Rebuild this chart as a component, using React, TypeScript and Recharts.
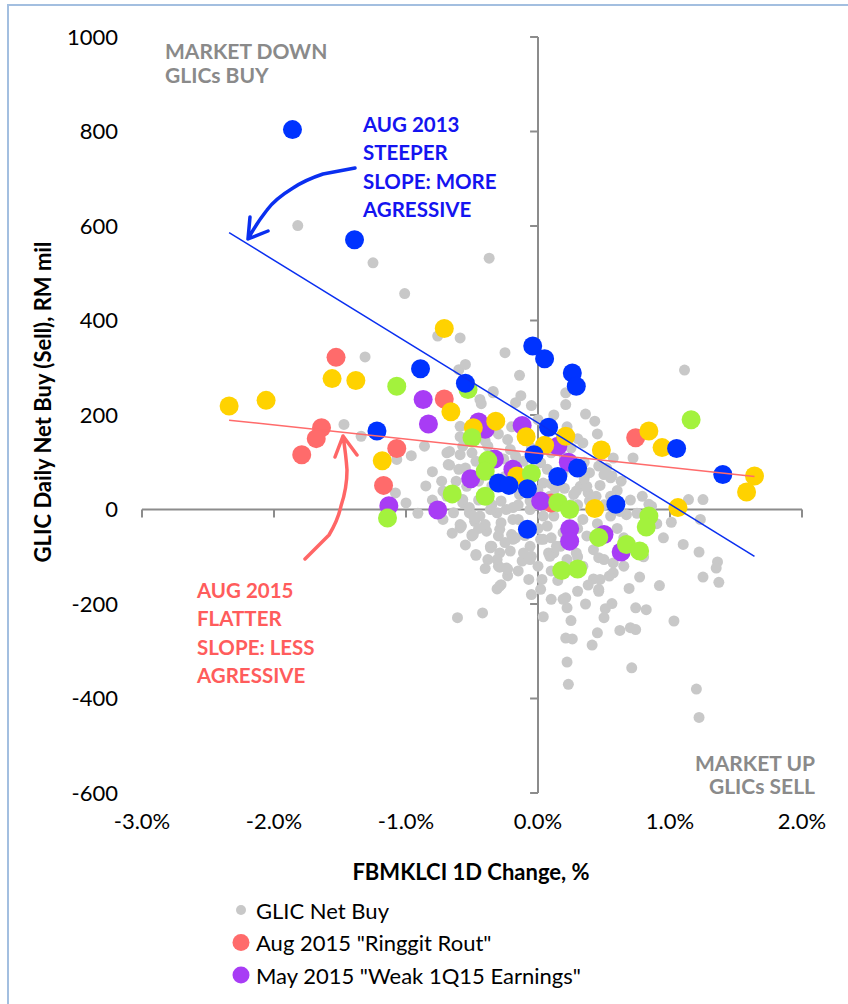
import React from "react";
import { ScatterChart, Scatter, XAxis, YAxis, ReferenceLine } from "recharts";

// FBMKLCI 1D change (%) vs GLIC daily net buy (RM mil)
const xTicks = [-3, -2, -1, 0, 1, 2];
const yTicks = [-600, -400, -200, 0, 200, 400, 600, 800, 1000];

const glicNetBuy = [
  { x: -1.82, y: 601 }, { x: -1.25, y: 522 }, { x: -1.01, y: 457 }, { x: -0.37, y: 532 },
  { x: -0.76, y: 367 }, { x: -0.59, y: 363 }, { x: -1.31, y: 323 }, { x: -0.25, y: 332 },
  { x: -0.6, y: 296 }, { x: -0.55, y: 307 }, { x: -0.14, y: 284 }, { x: 0.21, y: 247 },
  { x: -0.34, y: 247 }, { x: -0.13, y: 241 }, { x: 1.11, y: 295 }, { x: 0.21, y: 222 },
  { x: 0.36, y: 202 }, { x: 0.43, y: 187 }, { x: 0.22, y: 175 }, { x: -0.44, y: 233 },
  { x: -0.43, y: 224 }, { x: -0.17, y: 226 }, { x: -0.34, y: 250 }, { x: -0.59, y: 176 },
  { x: -0.59, y: 154 }, { x: -1.47, y: 180 }, { x: -1.34, y: 155 }, { x: -0.96, y: 114 },
  { x: -1.07, y: 106 }, { x: -1.08, y: 35 }, { x: -1.0, y: 14 }, { x: -0.91, y: -8 },
  { x: -0.86, y: 134 }, { x: -0.69, y: 120 }, { x: -0.67, y: 94 }, { x: -0.59, y: 116 },
  { x: -0.6, y: 85 }, { x: -0.73, y: 60 }, { x: -0.67, y: 123 }, { x: -0.68, y: 95 },
  { x: 0.34, y: 141 }, { x: 0.72, y: 109 }, { x: 0.47, y: 51 }, { x: 0.56, y: 71 },
  { x: 0.63, y: 60 }, { x: 0.79, y: 28 }, { x: 0.84, y: 11 }, { x: 1.14, y: 21 },
  { x: 1.25, y: 21 }, { x: 1.01, y: -27 }, { x: 1.23, y: -21 }, { x: 0.39, y: 18 },
  { x: 0.52, y: 88 }, { x: 0.57, y: 109 }, { x: 0.46, y: 92 }, { x: 0.62, y: -4 },
  { x: 0.67, y: -11 }, { x: 0.32, y: 49 }, { x: 0.27, y: 32 }, { x: 0.38, y: 35 },
  { x: 0.86, y: 7 }, { x: 0.75, y: -8 }, { x: 1.1, y: -74 }, { x: 1.22, y: -90 },
  { x: 1.36, y: -111 }, { x: 1.35, y: -124 }, { x: 1.25, y: -143 }, { x: 1.37, y: -154 },
  { x: 0.92, y: -161 }, { x: 0.77, y: -143 }, { x: 0.69, y: -167 }, { x: 0.57, y: -134 },
  { x: 0.46, y: -102 }, { x: 0.46, y: -173 }, { x: 0.36, y: -200 }, { x: 0.51, y: -210 },
  { x: 0.5, y: -229 }, { x: 0.56, y: -199 }, { x: 0.74, y: -208 }, { x: 0.82, y: -212 },
  { x: 1.03, y: -236 }, { x: 0.62, y: -256 }, { x: 0.7, y: -250 }, { x: 0.74, y: -254 },
  { x: 0.45, y: -261 }, { x: 0.21, y: -272 }, { x: 0.26, y: -274 }, { x: 0.41, y: -287 },
  { x: 0.22, y: -323 }, { x: 0.71, y: -335 }, { x: 0.23, y: -370 }, { x: 1.2, y: -380 },
  { x: 1.22, y: -440 }, { x: 0.22, y: -208 }, { x: 0.21, y: -187 }, { x: 0.57, y: -113 },
  { x: 0.54, y: -141 }, { x: 0.42, y: -147 }, { x: 0.46, y: -169 }, { x: 0.3, y: -173 },
  { x: 0.19, y: -190 }, { x: 0.47, y: -148 }, { x: 0.33, y: -120 }, { x: 0.04, y: -227 },
  { x: 0.03, y: -148 }, { x: 0.02, y: -169 }, { x: 0.12, y: -92 }, { x: 0.17, y: -78 },
  { x: 0.08, y: -92 }, { x: 0.04, y: -63 }, { x: -0.61, y: -229 }, { x: -0.42, y: -219 },
  { x: -0.31, y: -168 }, { x: -0.28, y: -159 }, { x: -0.07, y: -148 }, { x: -0.23, y: -140 },
  { x: -0.29, y: -122 }, { x: -0.24, y: -124 }, { x: -0.47, y: -97 }, { x: -0.38, y: -106 },
  { x: -0.36, y: -81 }, { x: -0.29, y: -92 }, { x: -0.21, y: -88 }, { x: -0.12, y: -109 },
  { x: -0.05, y: -99 }, { x: -0.59, y: -39 }, { x: -0.5, y: -53 }, { x: -0.39, y: -46 },
  { x: -0.3, y: -56 }, { x: -0.2, y: -53 }, { x: -0.29, y: -162 }, { x: -0.23, y: -126 },
  { x: -0.3, y: -120 }, { x: -0.35, y: -78 }, { x: -0.5, y: -56 }, { x: -0.59, y: -32 },
  { x: -0.48, y: -25 }, { x: -0.52, y: -7 }, { x: -0.57, y: 14 }, { x: -0.69, y: 28 },
  { x: -0.24, y: 0 }, { x: -0.15, y: -21 }, { x: -0.29, y: -42 }, { x: -0.19, y: -63 },
  { x: -0.06, y: -78 }, { x: -0.54, y: 49 }, { x: -0.72, y: 39 }, { x: -0.52, y: 4 },
  { x: -0.44, y: -14 }, { x: -0.58, y: -35 }, { x: -0.49, y: -53 }, { x: -0.4, y: -32 },
  { x: -0.31, y: -7 }, { x: -0.28, y: 18 }, { x: -0.19, y: 4 }, { x: -0.19, y: -21 },
  { x: -0.36, y: -78 }, { x: -0.47, y: -95 }, { x: -0.31, y: -106 }, { x: -0.11, y: -92 },
  { x: -0.17, y: -60 }, { x: 0.02, y: -63 }, { x: 0.07, y: -35 }, { x: 0.12, y: -14 },
  { x: 0.04, y: -14 }, { x: -0.06, y: 0 }, { x: 0.04, y: 56 }, { x: 0.07, y: 85 },
  { x: 0.02, y: 99 }, { x: -0.11, y: 102 }, { x: -0.17, y: 113 }, { x: -0.29, y: 109 },
  { x: -0.38, y: 134 }, { x: -0.23, y: 148 }, { x: 0.29, y: 39 }, { x: 0.37, y: 49 },
  { x: 0.44, y: 28 }, { x: 0.34, y: -21 }, { x: 0.37, y: -56 }, { x: 0.42, y: -85 },
  { x: 0.55, y: -14 }, { x: 0.55, y: 28 }, { x: 0.39, y: 78 }, { x: 0.5, y: 74 },
  { x: 0.55, y: 67 }, { x: 0.19, y: 78 }, { x: -0.11, y: -42 }, { x: -0.06, y: -106 },
  { x: 0.09, y: -99 }, { x: 0.22, y: -106 }, { x: 0.29, y: -92 }, { x: 0.5, y: -106 },
  { x: -0.39, y: 28 }, { x: -0.36, y: 0 }, { x: -0.28, y: -28 }, { x: -0.49, y: -14 },
  { x: 0.09, y: 28 }, { x: -0.14, y: 32 }, { x: -0.06, y: 18 }, { x: 0.19, y: -49 },
  { x: 0.14, y: -78 }, { x: 0.34, y: -120 }, { x: -0.57, y: 21 }, { x: -0.64, y: -7 },
  { x: -0.72, y: -21 }, { x: -0.21, y: 127 }, { x: -0.26, y: 107 }, { x: -0.57, y: 134 },
  { x: -0.47, y: 102 }, { x: -0.55, y: 88 }, { x: 0.0, y: 40 }, { x: 0.13, y: 45 },
  { x: 0.25, y: 10 }, { x: 0.3, y: -40 }, { x: -0.1, y: 60 }, { x: 0.18, y: 20 },
  { x: -0.45, y: 60 }, { x: -0.35, y: 50 }, { x: -0.25, y: 70 }, { x: -0.15, y: 60 },
  { x: 0.1, y: 55 }, { x: 0.2, y: 45 }, { x: 0.35, y: 65 }, { x: -0.45, y: 20 },
  { x: -0.35, y: 10 }, { x: -0.15, y: 10 }, { x: 0.0, y: 10 }, { x: 0.05, y: 20 },
  { x: 0.3, y: 10 }, { x: 0.4, y: 0 }, { x: 0.45, y: -30 }, { x: -0.45, y: -40 },
  { x: -0.25, y: -70 }, { x: -0.1, y: -55 }, { x: 0.0, y: -40 }, { x: 0.1, y: -60 },
  { x: 0.25, y: -70 }, { x: 0.3, y: -100 }, { x: 0.0, y: -120 }, { x: -0.15, y: -130 },
  { x: 0.1, y: -130 }, { x: 0.15, y: -150 }, { x: -0.4, y: -125 }, { x: -0.55, y: -75 },
  { x: -0.65, y: -50 }, { x: 0.6, y: -40 }, { x: 0.65, y: -60 }, { x: 0.5, y: 10 },
  { x: 0.6, y: 40 }, { x: 0.2, y: 110 }, { x: 0.35, y: 100 }, { x: 0.1, y: 120 },
  { x: -0.05, y: 130 }, { x: -0.3, y: 160 }, { x: -0.4, y: 145 }, { x: -0.5, y: 120 },
  { x: -0.2, y: 175 }, { x: 0.0, y: 190 }, { x: 0.12, y: 200 }, { x: -0.05, y: 220 },
  { x: 0.3, y: 150 }, { x: 0.25, y: 130 }, { x: 0.45, y: 160 }, { x: -0.62, y: 60 },
  { x: -0.8, y: 80 }, { x: -0.8, y: 20 }, { x: -0.85, y: 50 }, { x: 0.7, y: 20 },
  { x: 0.9, y: -30 }, { x: 0.95, y: -60 }, { x: 0.8, y: -100 }, { x: 0.65, y: -120 },
  { x: 0.38, y: -160 }, { x: 0.1, y: -190 }, { x: -0.05, y: -180 }, { x: 0.25, y: -235 },
];

const aug2015 = [
  { x: -1.53, y: 322 }, { x: -1.64, y: 173 }, { x: -1.68, y: 150 }, { x: -1.79, y: 116 },
  { x: -1.07, y: 129 }, { x: -1.17, y: 51 }, { x: -0.71, y: 234 }, { x: 0.74, y: 152 },
  { x: 0.1, y: 14 },
];

const may2015 = [
  { x: -0.87, y: 233 }, { x: -0.83, y: 181 }, { x: -1.13, y: 8 }, { x: -0.76, y: -1 },
  { x: -0.45, y: 185 }, { x: -0.4, y: 170 }, { x: -0.33, y: 107 }, { x: -0.51, y: 65 },
  { x: -0.19, y: 85 }, { x: -0.12, y: 178 }, { x: 0.02, y: 18 }, { x: 0.24, y: -41 },
  { x: 0.24, y: -67 }, { x: 0.15, y: 134 }, { x: 0.23, y: 100 }, { x: 0.5, y: -53 },
  { x: 0.63, y: -90 },
];

const yellowSeries = [
  { x: -2.34, y: 219 }, { x: -2.06, y: 231 }, { x: -1.56, y: 277 }, { x: -1.38, y: 273 },
  { x: -0.71, y: 383 }, { x: -1.18, y: 103 }, { x: -0.66, y: 207 }, { x: -0.32, y: 187 },
  { x: -0.49, y: 173 }, { x: -0.09, y: 154 }, { x: 0.05, y: 136 }, { x: 0.21, y: 155 },
  { x: -0.16, y: 71 }, { x: 0.48, y: 126 }, { x: 0.84, y: 166 }, { x: 0.94, y: 131 },
  { x: 0.43, y: 2 }, { x: 1.06, y: 4 }, { x: 1.64, y: 71 }, { x: 1.58, y: 37 },
];

const greenSeries = [
  { x: -1.07, y: 261 }, { x: -1.14, y: -18 }, { x: -0.53, y: 254 }, { x: -0.5, y: 152 },
  { x: -0.38, y: 104 }, { x: -0.4, y: 81 }, { x: -0.65, y: 33 }, { x: -0.4, y: 28 },
  { x: -0.05, y: 76 }, { x: 0.15, y: 15 }, { x: 0.24, y: 0 }, { x: 0.18, y: -129 },
  { x: 0.3, y: -126 }, { x: 1.16, y: 190 }, { x: 0.84, y: -14 }, { x: 0.82, y: -37 },
  { x: 0.46, y: -59 }, { x: 0.67, y: -74 }, { x: 0.77, y: -88 },
];

const aug2013 = [
  { x: -1.86, y: 804 }, { x: -1.39, y: 571 }, { x: -1.22, y: 166 }, { x: -0.89, y: 298 },
  { x: -0.55, y: 267 }, { x: -0.04, y: 346 }, { x: 0.05, y: 319 }, { x: 0.26, y: 289 },
  { x: 0.29, y: 261 }, { x: 0.08, y: 174 }, { x: -0.03, y: 116 }, { x: 0.3, y: 88 },
  { x: 0.15, y: 70 }, { x: -0.3, y: 56 }, { x: -0.22, y: 51 }, { x: -0.08, y: 44 },
  { x: 0.59, y: 11 }, { x: -0.08, y: -42 }, { x: 1.05, y: 129 }, { x: 1.4, y: 74 },
];

const trendAug2013 = [{ x: -2.34, y: 586 }, { x: 1.64, y: -99 }];
const trendAug2015 = [{ x: -2.34, y: 189 }, { x: 1.64, y: 70 }];

const legendItems = [
  { name: "GLIC Net Buy", color: "#c8c8c8", r: 5 },
  { name: 'Aug 2015 "Ringgit Rout"', color: "#ff6b6b", r: 8.5 },
  { name: 'May 2015 "Weak 1Q15 Earnings"', color: "#a83cf5", r: 8.5 },
];

const FONT = "Lato, 'Open Sans', sans-serif";
const AXIS = "#8c8c8c";

const dot = (r: number, fill: string) => (p: any) =>
  <circle cx={p.cx} cy={p.cy} r={r} fill={fill} />;
const noDot = () => <g />;

export default function App() {
  return (
    <div style={{ position: "fixed", left: 0, top: 0, width: 848, height: 1004, overflow: "hidden", background: "#fff", fontFamily: FONT }}>
      <div style={{ position: "absolute", left: 7, top: 4, width: 1000, height: 1200, border: "2px solid #a3bfe0" }} />
      <div style={{ position: "absolute", left: 0, top: 0 }}>
        <ScatterChart width={848} height={1004} margin={{ top: 37, right: 46, bottom: 121, left: 42 }}>
          <XAxis
            type="number"
            dataKey="x"
            domain={[-3, 2]}
            ticks={xTicks}
            tickFormatter={(v: number) => `${v.toFixed(1)}%`}
            axisLine={false}
            tickLine={false}
            tickMargin={14}
            height={90}
            tick={{ fill: "#000", fontSize: 22, fontFamily: FONT }}
          />
          <YAxis
            type="number"
            dataKey="y"
            domain={[-600, 1000]}
            ticks={yTicks}
            axisLine={false}
            tickLine={false}
            tickMargin={18}
            width={100}
            tick={{ fill: "#000", fontSize: 22, fontFamily: FONT }}
          />
          <ReferenceLine x={0} stroke={AXIS} strokeWidth={2} />
          <ReferenceLine y={0} stroke={AXIS} strokeWidth={2} />
          {yTicks.map((t) => (
            <ReferenceLine key={`yt${t}`} segment={[{ x: -0.06, y: t }, { x: 0, y: t }]} stroke={AXIS} strokeWidth={2} />
          ))}
          {xTicks.map((t) => (
            <ReferenceLine key={`xt${t}`} segment={[{ x: t, y: 0 }, { x: t, y: -17 }]} stroke={AXIS} strokeWidth={2} />
          ))}
          <Scatter name="GLIC Net Buy" data={glicNetBuy} shape={dot(5.5, "#c8c8c8")} isAnimationActive={false} />
          <Scatter name='Aug 2015 "Ringgit Rout"' data={aug2015} shape={dot(9.5, "#ff6b6b")} isAnimationActive={false} />
          <Scatter name='May 2015 "Weak 1Q15 Earnings"' data={may2015} shape={dot(9.5, "#a83cf5")} isAnimationActive={false} />
          <Scatter name="yellow" data={yellowSeries} shape={dot(9.5, "#ffd200")} isAnimationActive={false} />
          <Scatter name="green" data={greenSeries} shape={dot(9.5, "#a3f23d")} isAnimationActive={false} />
          <Scatter name="Aug 2013" data={aug2013} shape={dot(9.5, "#0033ff")} isAnimationActive={false} />
          <Scatter data={trendAug2013} line={{ stroke: "#0a2ff0", strokeWidth: 1.5 }} shape={noDot} isAnimationActive={false} />
          <Scatter data={trendAug2015} line={{ stroke: "#ff6b6b", strokeWidth: 1.5 }} shape={noDot} isAnimationActive={false} />
        </ScatterChart>
      </div>
      <svg width={848} height={1004} style={{ position: "absolute", left: 0, top: 0, pointerEvents: "none" }} fontFamily={FONT}>
        <text x={42} y={402} transform="rotate(-90 42 402)" textAnchor="middle" dominantBaseline="central" fontSize={22} fontWeight="bold" fill="#000">
          GLIC Daily Net Buy (Sell), RM mil
        </text>
        <text x={471} y={871} textAnchor="middle" dominantBaseline="central" fontSize={22} fontWeight="bold" fill="#000">
          FBMKLCI 1D Change, %
        </text>

        <g fontSize={21} fontWeight="bold" fill="#8a8a8a">
          <text x={165} y={50} dominantBaseline="central">MARKET DOWN</text>
          <text x={165} y={74} dominantBaseline="central">GLICs BUY</text>
          <text x={815} y={762} textAnchor="end" dominantBaseline="central">MARKET UP</text>
          <text x={815} y={785} textAnchor="end" dominantBaseline="central">GLICs SELL</text>
        </g>
        <g fontSize={20.5} fontWeight="bold" fill="#1414f0">
          <text x={363} y={124} dominantBaseline="central">AUG 2013</text>
          <text x={363} y={152} dominantBaseline="central">STEEPER</text>
          <text x={363} y={181} dominantBaseline="central">SLOPE: MORE</text>
          <text x={363} y={209} dominantBaseline="central">AGRESSIVE</text>
        </g>
        <g fontSize={20.5} fontWeight="bold" fill="#ff5c5c">
          <text x={197} y={590} dominantBaseline="central">AUG 2015</text>
          <text x={197} y={618} dominantBaseline="central">FLATTER</text>
          <text x={197} y={647} dominantBaseline="central">SLOPE: LESS</text>
          <text x={197} y={675} dominantBaseline="central">AGRESSIVE</text>
        </g>

        <g fill="none" strokeWidth={3.5} strokeLinecap="round" strokeLinejoin="round">
          <path d="M355,168 L323,174 Q305,180 293,188 Q275,199 267,210 Q256,224 248,239 M250,217 L248,239 L268,231" stroke="#0a2ff0" />
          <path d="M305,559 L329,535 Q338,520 341,506 Q347,488 347,470 Q346,455 343,436 M335,457 L343,436 L357,455" stroke="#ff6666" />
        </g>

        {legendItems.map((it, i) => (
          <g key={it.name}>
            <circle cx={241} cy={910 + i * 32.5} r={it.r} fill={it.color} />
            <text x={256} y={910 + i * 32.5} dominantBaseline="central" fontSize={22} fill="#000">
              {it.name}
            </text>
          </g>
        ))}
      </svg>
    </div>
  );
}
